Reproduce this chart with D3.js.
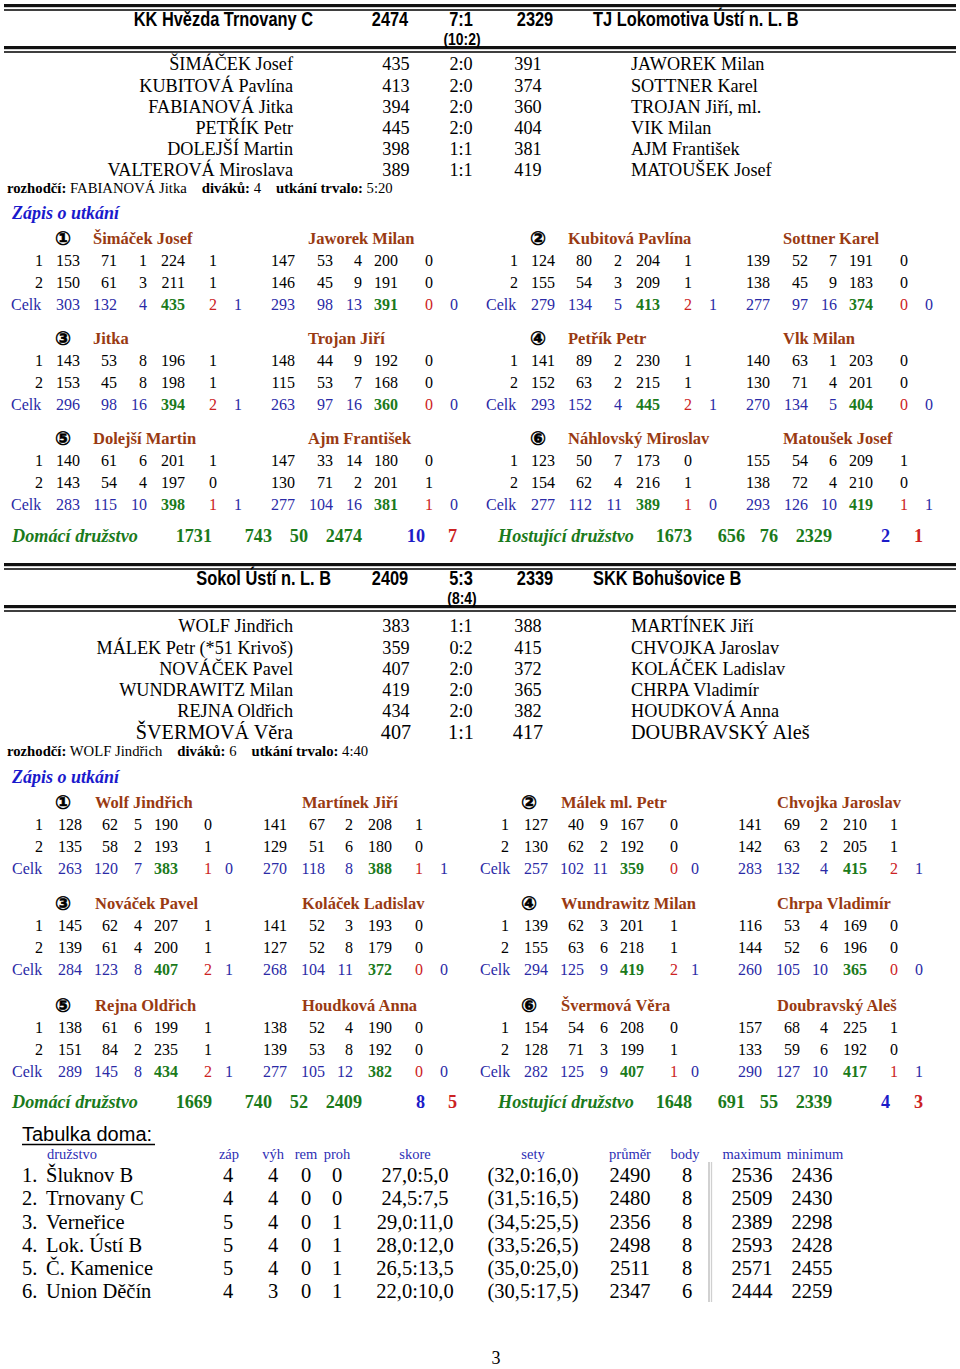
<!DOCTYPE html>
<html><head><meta charset="utf-8">
<script src="https://cdn.jsdelivr.net/npm/d3@7"></script>
<style>body{margin:0;background:#fff}</style>
</head><body><div id="c"></div>
<script>
// ---------------- DATA ----------------
// Match 1
const m1Teams = ["KK Hvězda Trnovany C", "TJ Lokomotiva Ústí n. L. B"];
const m1TeamScores = ["2474", "2329"];
const m1Result = ["7:1", "(10:2)"];
const m1HomePlayers = ["ŠIMÁČEK Josef","KUBITOVÁ Pavlína","FABIANOVÁ Jitka","PETŘÍK Petr","DOLEJŠÍ Martin","VALTEROVÁ Miroslava"];
const m1HomeScores = [435,413,394,445,398,389];
const m1Sets = ["2:0","2:0","2:0","2:0","1:1","1:1"];
const m1AwayScores = [391,374,360,404,381,419];
const m1AwayPlayers = ["JAWOREK Milan","SOTTNER Karel","TROJAN Jiří, ml.","VIK Milan","AJM František","MATOUŠEK Josef"];
const m1Info = ["FABIANOVÁ Jitka","4","5:20"];
const m1GameHome = ["Šimáček Josef","Kubitová Pavlína","Jitka","Petřík Petr","Dolejší Martin","Náhlovský Miroslav"];
const m1GameAway = ["Jaworek Milan","Sottner Karel","Trojan Jiří","Vlk Milan","Ajm František","Matoušek Josef"];
const m1HomeLanes = [
  [[153,71,1,224,1],[150,61,3,211,1]],
  [[124,80,2,204,1],[155,54,3,209,1]],
  [[143,53,8,196,1],[153,45,8,198,1]],
  [[141,89,2,230,1],[152,63,2,215,1]],
  [[140,61,6,201,1],[143,54,4,197,0]],
  [[123,50,7,173,0],[154,62,4,216,1]]];
const m1AwayLanes = [
  [[147,53,4,200,0],[146,45,9,191,0]],
  [[139,52,7,191,0],[138,45,9,183,0]],
  [[148,44,9,192,0],[115,53,7,168,0]],
  [[140,63,1,203,0],[130,71,4,201,0]],
  [[147,33,14,180,0],[130,71,2,201,1]],
  [[155,54,6,209,1],[138,72,4,210,0]]];
const m1HomeTotals = [[303,132,4,435,2,1],[279,134,5,413,2,1],[296,98,16,394,2,1],[293,152,4,445,2,1],[283,115,10,398,1,1],[277,112,11,389,1,0]];
const m1AwayTotals = [[293,98,13,391,0,0],[277,97,16,374,0,0],[263,97,16,360,0,0],[270,134,5,404,0,0],[277,104,16,381,1,0],[293,126,10,419,1,1]];
const m1TeamSums = [["Domácí družstvo",1731,743,50,2474,10,7],["Hostující družstvo",1673,656,76,2329,2,1]];

// Match 2
const m2Teams = ["Sokol Ústí n. L. B", "SKK Bohušovice B"];
const m2TeamScores = ["2409", "2339"];
const m2Result = ["5:3", "(8:4)"];
const m2HomePlayers = ["WOLF Jindřich","MÁLEK Petr (*51 Krivoš)","NOVÁČEK Pavel","WUNDRAWITZ Milan","REJNA Oldřich","ŠVERMOVÁ Věra"];
const m2HomeScores = [383,359,407,419,434,407];
const m2Sets = ["1:1","0:2","2:0","2:0","2:0","1:1"];
const m2AwayScores = [388,415,372,365,382,417];
const m2AwayPlayers = ["MARTÍNEK Jiří","CHVOJKA Jaroslav","KOLÁČEK Ladislav","CHRPA Vladimír","HOUDKOVÁ Anna","DOUBRAVSKÝ Aleš"];
const m2Info = ["WOLF Jindřich","6","4:40"];
const m2GameHome = ["Wolf Jindřich","Málek ml. Petr","Nováček Pavel","Wundrawitz Milan","Rejna Oldřich","Švermová Věra"];
const m2GameAway = ["Martínek Jiří","Chvojka Jaroslav","Koláček Ladislav","Chrpa Vladimír","Houdková Anna","Doubravský Aleš"];
const m2HomeLanes = [
  [[128,62,5,190,0],[135,58,2,193,1]],
  [[127,40,9,167,0],[130,62,2,192,0]],
  [[145,62,4,207,1],[139,61,4,200,1]],
  [[139,62,3,201,1],[155,63,6,218,1]],
  [[138,61,6,199,1],[151,84,2,235,1]],
  [[154,54,6,208,0],[128,71,3,199,1]]];
const m2AwayLanes = [
  [[141,67,2,208,1],[129,51,6,180,0]],
  [[141,69,2,210,1],[142,63,2,205,1]],
  [[141,52,3,193,0],[127,52,8,179,0]],
  [[116,53,4,169,0],[144,52,6,196,0]],
  [[138,52,4,190,0],[139,53,8,192,0]],
  [[157,68,4,225,1],[133,59,6,192,0]]];
const m2HomeTotals = [[263,120,7,383,1,0],[257,102,11,359,0,0],[284,123,8,407,2,1],[294,125,9,419,2,1],[289,145,8,434,2,1],[282,125,9,407,1,0]];
const m2AwayTotals = [[270,118,8,388,1,1],[283,132,4,415,2,1],[268,104,11,372,0,0],[260,105,10,365,0,0],[277,105,12,382,0,0],[290,127,10,417,1,1]];
const m2TeamSums = [["Domácí družstvo",1669,740,52,2409,8,5],["Hostující družstvo",1648,691,55,2339,4,3]];

// Table
const tableTitle = "Tabulka doma:";
const tableHeaders = ["družstvo","záp","výh","rem","proh","skore","sety","průměr","body","maximum","minimum"];
const tableTeams = ["Šluknov B","Trnovany C","Verneřice","Lok. Ústí B","Č. Kamenice","Union Děčín"];
const tableZap = [4,4,5,5,5,4];
const tableVyh = [4,4,4,4,4,3];
const tableRem = [0,0,0,0,0,0];
const tableProh = [0,0,1,1,1,1];
const tableSkore = ["27,0:5,0","24,5:7,5","29,0:11,0","28,0:12,0","26,5:13,5","22,0:10,0"];
const tableSety = ["(32,0:16,0)","(31,5:16,5)","(34,5:25,5)","(33,5:26,5)","(35,0:25,0)","(30,5:17,5)"];
const tablePrumer = [2490,2480,2356,2498,2511,2347];
const tableBody = [8,8,8,8,8,6];
const tableMax = [2536,2509,2389,2593,2571,2444];
const tableMin = [2436,2430,2298,2428,2455,2259];
const circled = ["①","②","③","④","⑤","⑥"];
const pageNumber = "3";

// ---------------- DRAWING ----------------
const SERIF = "'Liberation Serif','Times New Roman',serif";
const SANS = "'Liberation Sans',Arial,sans-serif";
const BROWN = "#993a12", BLUE = "#2a2aa6", GREEN = "#1b7a1b", RED = "#cc2222", BBLUE = "#1c1cc8";

const svg = d3.select("#c").append("svg").attr("width",960).attr("height",1369).style("display","block");
svg.append("rect").attr("width",960).attr("height",1369).attr("fill","#fff");

function texts(g, data, o) {
  return g.selectAll(null).data(data).join("text")
    .attr("x", o.x === undefined ? 0 : o.x)
    .attr("y", o.y === undefined ? 0 : o.y)
    .attr("dy", o.dy || "0.35em")
    .attr("transform", o.transform || null)
    .attr("text-anchor", o.anchor || "start")
    .attr("font-family", o.family || SERIF)
    .attr("font-size", o.size || 16)
    .attr("font-weight", o.weight || "normal")
    .attr("font-style", o.style || "normal")
    .attr("fill", o.fill || "#000")
    .attr("stroke", o.stroke || null)
    .attr("stroke-width", o.strokeWidth || null)
    .text(o.text || (d => d));
}

function drawMatch(cfg, D) {
  const g = svg.append("g");
  // double rules
  [cfg.top, cfg.top + 42].forEach(t => {
    g.append("rect").attr("x",4).attr("y",t).attr("width",952).attr("height",3.2).attr("fill","#111");
    g.append("rect").attr("x",4).attr("y",t+5.2).attr("width",952).attr("height",1.6).attr("fill","#111");
  });
  // header
  const hx = d3.scaleOrdinal().domain(["home","s1","res","sets","s2","away"])
    .range([cfg.homeRight, 390, 461, 462, 535, 593]);
  const hy = cfg.top + 15;
  const headItems = [
    {k:"home", t:D.teams[0], a:"end", y:hy, s:20},
    {k:"s1", t:D.teamScores[0], a:"middle", y:hy, s:20},
    {k:"res", t:D.result[0], a:"middle", y:hy, s:20},
    {k:"sets", t:D.result[1], a:"middle", y:hy+20, s:17},
    {k:"s2", t:D.teamScores[1], a:"middle", y:hy, s:20},
    {k:"away", t:D.teams[1], a:"start", y:hy, s:20}];
  texts(g, headItems, {family:SANS, weight:"bold", anchor:d=>d.a, size:d=>d.s,
    transform:d=>`translate(${hx(d.k)},${d.y}) scale(0.82,1)`, text:d=>d.t});

  // player list
  const ly = d3.scaleLinear().domain([0,5]).range([cfg.listTop, cfg.listTop + 106]);
  const lx = d3.scaleOrdinal().domain(["hn","hs","st","as","an"]).range([293,396,461,528,631]);
  const idx = d3.range(6);
  const sz = i => (cfg.bigLast && i === 5) ? 20.2 : 18.2;
  texts(g, idx, {x:lx("hn"), y:i=>ly(i), anchor:"end", size:sz, text:i=>D.homePlayers[i]});
  texts(g, idx, {x:lx("hs"), y:i=>ly(i), anchor:"middle", size:sz, text:i=>D.homeScores[i]});
  texts(g, idx, {x:lx("st"), y:i=>ly(i), anchor:"middle", size:sz, text:i=>D.sets[i]});
  texts(g, idx, {x:lx("as"), y:i=>ly(i), anchor:"middle", size:sz, text:i=>D.awayScores[i]});
  texts(g, idx, {x:lx("an"), y:i=>ly(i), anchor:"start", size:sz, text:i=>D.awayPlayers[i]});

  // info line
  const info = g.append("text").attr("x",7).attr("y",cfg.infoY).attr("dy","0.35em")
    .attr("font-family",SERIF).attr("font-size",14.7).attr("fill","#000");
  const parts = [["rozhodčí:",true,0],[" "+D.info[0],false,0],["diváků:",true,15],[" "+D.info[1],false,0],["utkání trvalo:",true,15],[" "+D.info[2],false,0]];
  info.selectAll("tspan").data(parts).join("tspan")
    .attr("dx", d=>d[2]).attr("font-weight", d=>d[1]?"bold":"normal")
    .style("white-space","pre").text(d=>d[0]);

  // Zápis o utkání
  g.append("text").attr("x",12).attr("y",cfg.zapisY).attr("dy","0.35em")
    .attr("font-family",SERIF).attr("font-size",18).attr("font-weight","bold")
    .attr("font-style","italic").attr("fill","#1a1acc").text("Zápis o utkání");

  // game blocks
  const by = d3.scaleLinear().domain([0,2]).range([cfg.blockTop, cfg.blockTop + cfg.blockGap*2]);
  const cols = ["lane","plne","dor","chyby","cel","body","bodyM"];
  const hc = d3.scaleOrdinal().domain(cols).range(cfg.homeCols);
  const ac = d3.scaleOrdinal().domain(cols).range(cfg.awayCols);
  const totColors = [BLUE, BLUE, BLUE, GREEN, RED, BLUE];
  const totWeights = ["normal","normal","normal","bold","normal","normal"];
  d3.range(6).forEach(i => {
    const side = i % 2, r = Math.floor(i/2);
    const ho = side ? cfg.rightHomeOff : 0, ao = side ? cfg.rightAwayOff : 0;
    const y0 = by(r);
    const bg = g.append("g");
    // header
    texts(bg, [circled[i]], {x:63 + ho, y:y0, dy:"0.36em", anchor:"middle", family:"'DejaVu Sans',sans-serif", size:19, weight:"bold", stroke:"#000", strokeWidth:0.5});
    texts(bg, [D.gameHome[i]], {x:cfg.homeNameX + ho, y:y0, size:16.5, weight:"bold", fill:BROWN});
    texts(bg, [D.gameAway[i]], {x:cfg.awayNameX + ao, y:y0, size:16.5, weight:"bold", fill:BROWN});
    // lanes
    D.homeLanes[i].forEach((lane, li) => {
      const y = y0 + 22*(li+1);
      texts(bg, [li+1], {x:hc("lane") + ho, y, anchor:"end", size:16});
      texts(bg, lane, {x:(d,k)=>hc(cols[k+1]) + ho, y, anchor:"end", size:16});
      texts(bg, D.awayLanes[i][li], {x:(d,k)=>ac(cols[k+1]) + ao, y, anchor:"end", size:16});
    });
    // totals
    const yt = y0 + 66;
    texts(bg, ["Celk"], {x:cfg.celkX + (side ? cfg.rightCelkOff : 0), y:yt, size:16, fill:BLUE});
    texts(bg, D.homeTotals[i], {x:(d,k)=>hc(cols[k+1]) + ho, y:yt, anchor:"end", size:16,
      fill:(d,k)=>totColors[k], weight:(d,k)=>totWeights[k]});
    texts(bg, D.awayTotals[i], {x:(d,k)=>ac(cols[k+1]) + ao, y:yt, anchor:"end", size:16,
      fill:(d,k)=>totColors[k], weight:(d,k)=>totWeights[k]});
  });

  // team sums
  const sumX = [[12,212,272,308,362,425,457],[498,692,745,778,832,890,923]];
  const sumColors = [GREEN,GREEN,GREEN,GREEN,GREEN,BBLUE,RED];
  D.teamSums.forEach((row, s) => {
    const sx = d3.scaleOrdinal().domain(d3.range(7)).range(sumX[s]);
    texts(g, row, {x:(d,k)=>sx(k), y:cfg.sumY, anchor:(d,k)=>k===0?"start":"end", size:18.2,
      weight:"bold", style:(d,k)=>k===0?"italic":"normal", fill:(d,k)=>sumColors[k]});
  });
}

drawMatch({top:4, homeRight:313, listTop:64, infoY:188, zapisY:213, blockTop:238, blockGap:100,
  homeCols:[43,80,117,147,185,217,242], awayCols:[0,295,333,362,398,433,458],
  rightHomeOff:475, rightAwayOff:475, homeNameX:93, awayNameX:308, celkX:11, rightCelkOff:475, sumY:536, bigLast:false},
  {teams:m1Teams, teamScores:m1TeamScores, result:m1Result, homePlayers:m1HomePlayers, homeScores:m1HomeScores,
   sets:m1Sets, awayScores:m1AwayScores, awayPlayers:m1AwayPlayers, info:m1Info, gameHome:m1GameHome, gameAway:m1GameAway,
   homeLanes:m1HomeLanes, awayLanes:m1AwayLanes, homeTotals:m1HomeTotals, awayTotals:m1AwayTotals, teamSums:m1TeamSums});

drawMatch({top:563, homeRight:331, listTop:626, infoY:751, zapisY:777, blockTop:802, blockGap:101.5,
  homeCols:[43,82,118,142,178,212,233], awayCols:[0,287,325,353,392,423,448],
  rightHomeOff:466, rightAwayOff:475, homeNameX:95, awayNameX:302, celkX:12, rightCelkOff:468, sumY:1102, bigLast:true},
  {teams:m2Teams, teamScores:m2TeamScores, result:m2Result, homePlayers:m2HomePlayers, homeScores:m2HomeScores,
   sets:m2Sets, awayScores:m2AwayScores, awayPlayers:m2AwayPlayers, info:m2Info, gameHome:m2GameHome, gameAway:m2GameAway,
   homeLanes:m2HomeLanes, awayLanes:m2AwayLanes, homeTotals:m2HomeTotals, awayTotals:m2AwayTotals, teamSums:m2TeamSums});

// ---------------- TABLE ----------------
const tg = svg.append("g");
tg.append("text").attr("x",22).attr("y",1134).attr("dy","0.35em")
  .attr("font-family",SANS).attr("font-size",20).attr("fill","#000").text(tableTitle);
tg.append("line").attr("x1",22).attr("x2",155).attr("y1",1144.5).attr("y2",1144.5).attr("stroke","#000").attr("stroke-width",1.4);

const tcol = d3.scaleOrdinal().domain(tableHeaders).range([72,229,273,306,337,415,533,630,685,752,815]);
texts(tg, tableHeaders, {x:d=>tcol(d), y:1154, anchor:"middle", size:14.5, fill:"#2d2db4"});
const ty = d3.scaleLinear().domain([0,5]).range([1175,1291]);
const ri = d3.range(tableTeams.length);
texts(tg, ri, {x:22, y:i=>ty(i), size:20.5, text:i=>(i+1)+"."});
texts(tg, ri, {x:46, y:i=>ty(i), size:20.5, text:i=>tableTeams[i]});
const numCols = [["záp",tableZap],["výh",tableVyh],["rem",tableRem],["proh",tableProh],["skore",tableSkore],
  ["sety",tableSety],["průměr",tablePrumer],["body",tableBody],["maximum",tableMax],["minimum",tableMin]];
numCols.forEach(([k, arr]) => {
  const dx = k==="body" ? 2 : (k==="minimum" ? -3 : (k==="záp" ? -1 : 0));
  texts(tg, arr, {x:tcol(k)+dx, y:(d,i)=>ty(i), anchor:"middle", size:20.5});
});
tg.append("line").attr("x1",709).attr("x2",709).attr("y1",1162).attr("y2",1302).attr("stroke","#b8b8b8").attr("stroke-width",1.3);
tg.append("line").attr("x1",711.5).attr("x2",711.5).attr("y1",1162).attr("y2",1302).attr("stroke","#d0d0d0").attr("stroke-width",1.3);

texts(svg, [pageNumber], {x:496, y:1358, anchor:"middle", size:18});
</script>
</body></html>
